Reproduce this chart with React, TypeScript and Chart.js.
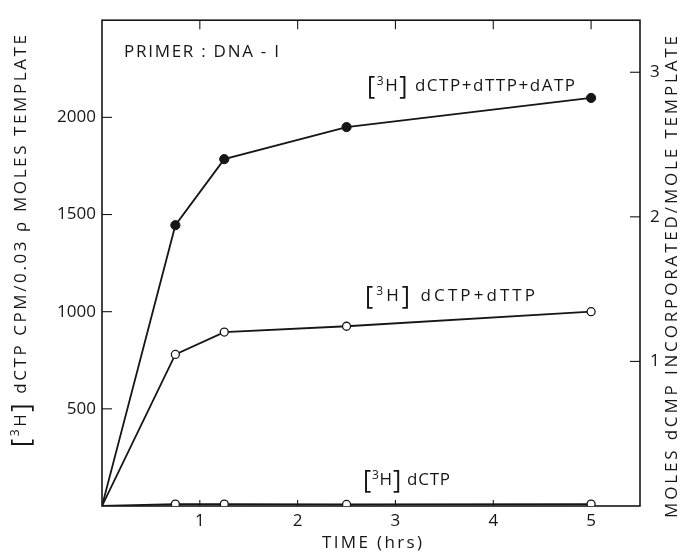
import React, { useEffect, useRef } from 'react';
import { Chart, registerables } from 'chart.js';

Chart.register(...registerables);

// ---- data ----
const TIME_HRS = [0, 0.75, 1.25, 2.5, 5];
const CPM_DCTP_DTTP_DATP = [0, 1445, 1785, 1950, 2100];
const CPM_DCTP_DTTP = [0, 780, 895, 925, 1000];
const CPM_DCTP = [0, 10, 10, 8, 10];

const X_TICKS = [1, 2, 3, 4, 5];
const Y_TICKS = [500, 1000, 1500, 2000];
const Y2_TICKS = [1, 2, 3];

const X_MAX = 5.5;
const Y_MAX = 2500;
const Y2_MAX = 3.36;

const FONT = '"Open Sans", "DejaVu Sans", sans-serif';
const INK = '#161616';

type Seg = { t: string; size: number; dy?: number };

const iso = (rest: string): Seg[] => [
  { t: '[', size: 25, dy: 1 },
  { t: '3', size: 12, dy: -5 },
  { t: 'H', size: 17 },
  { t: ']', size: 25, dy: 1 },
  { t: rest, size: 17 },
];

function drawRich(ctx: CanvasRenderingContext2D, segs: Seg[], cx: number, cy: number, target?: number) {
  ctx.save();
  (ctx as any).letterSpacing = '0px';
  ctx.textBaseline = 'middle';
  ctx.textAlign = 'left';
  ctx.fillStyle = INK;
  let nat = 0;
  let n = 0;
  for (const s of segs) {
    ctx.font = `normal ${s.size}px ${FONT}`;
    for (const ch of s.t) {
      nat += ctx.measureText(ch).width;
      n++;
    }
  }
  const ls = target ? Math.max(0, (target - nat) / Math.max(1, n - 1)) : 0;
  const total = target ? Math.max(target, nat) : nat;
  let x = cx - total / 2;
  for (const s of segs) {
    ctx.font = `normal ${s.size}px ${FONT}`;
    for (const ch of s.t) {
      ctx.fillText(ch, x, cy + (s.dy || 0));
      x += ctx.measureText(ch).width + ls;
    }
  }
  ctx.restore();
}

// annotation anchors in data coordinates (hours, cpm), with rendered widths
const NOTES: { segs: Seg[]; x: number; y: number; w: number }[] = [
  { segs: [{ t: 'PRIMER : DNA - I', size: 17 }], x: 1.017, y: 2333, w: 155 },
  { segs: iso(' dCTP+dTTP+dATP'), x: 3.773, y: 2160, w: 208 },
  { segs: iso(' dCTP+dTTP'), x: 3.558, y: 1080, w: 170 },
  { segs: iso(' dCTP'), x: 3.113, y: 132, w: 87 },
];

const framePlugin = {
  id: 'frameTicks',
  beforeDatasetsDraw(chart: any) {
    const { ctx, chartArea, scales } = chart;
    const { left, right, top, bottom } = chartArea;
    ctx.save();
    ctx.strokeStyle = INK;
    ctx.lineWidth = 1.6;
    ctx.strokeRect(left, top, right - left, bottom - top);
    ctx.lineWidth = 1.1;
    const seg = (x1: number, y1: number, x2: number, y2: number) => {
      ctx.beginPath();
      ctx.moveTo(x1, y1);
      ctx.lineTo(x2, y2);
      ctx.stroke();
    };
    for (const v of X_TICKS) {
      const px = scales.x.getPixelForValue(v);
      seg(px, bottom, px, bottom - 6);
      seg(px, top, px, top + 9);
    }
    for (const v of Y_TICKS) {
      const py = scales.y.getPixelForValue(v);
      seg(left, py, left + 10, py);
    }
    for (const v of Y2_TICKS) {
      const py = scales.y1.getPixelForValue(v);
      seg(right, py, right - 10, py);
    }
    ctx.restore();
  },
  afterDraw(chart: any) {
    const { ctx, scales } = chart;
    for (const n of NOTES) {
      drawRich(ctx, n.segs, scales.x.getPixelForValue(n.x), scales.y.getPixelForValue(n.y), n.w);
    }
    // axis titles
    ctx.save();
    ctx.translate(21, 241);
    ctx.rotate(-Math.PI / 2);
    drawRich(ctx, iso(' dCTP CPM/0.03 ρ MOLES TEMPLATE'), 0, 0, 412);
    ctx.restore();
    ctx.save();
    ctx.translate(672, 277);
    ctx.rotate(-Math.PI / 2);
    drawRich(ctx, [{ t: 'MOLES dCMP INCORPORATED/MOLE TEMPLATE', size: 17 }], 0, 0, 482);
    ctx.restore();
    drawRich(ctx, [{ t: 'TIME (hrs)', size: 17 }], 372, 543, 100);
  },
};

export default function App() {
  const ref = useRef<HTMLCanvasElement | null>(null);
  useEffect(() => {
    document.body.style.margin = '0';
    const canvas = ref.current;
    if (!canvas) return;
    const pts = (ys: number[]) => TIME_HRS.map((x, i) => ({ x, y: ys[i] }));
    const radii = TIME_HRS.map((t) => (t === 0 ? 0 : 4.6));
    const radiiOpen = TIME_HRS.map((t) => (t === 0 ? 0 : 4));
    const tickFont = { family: FONT, size: 17 };
    const plain = (v: any) => String(v);
    const chart = new Chart(canvas, {
      type: 'line',
      data: {
        datasets: [
          {
            label: '[3H] dCTP+dTTP+dATP',
            data: pts(CPM_DCTP_DTTP_DATP),
            borderColor: INK,
            backgroundColor: INK,
            borderWidth: 1.8,
            pointRadius: radii,
            pointBackgroundColor: INK,
            pointBorderColor: INK,
            pointBorderWidth: 1,
            tension: 0,
          },
          {
            label: '[3H] dCTP+dTTP',
            data: pts(CPM_DCTP_DTTP),
            borderColor: INK,
            backgroundColor: '#fff',
            borderWidth: 1.8,
            pointRadius: radiiOpen,
            pointBackgroundColor: '#fff',
            pointBorderColor: INK,
            pointBorderWidth: 1.3,
            tension: 0,
          },
          {
            label: '[3H] dCTP',
            data: pts(CPM_DCTP),
            borderColor: INK,
            backgroundColor: '#fff',
            borderWidth: 1.8,
            pointRadius: radiiOpen,
            pointBackgroundColor: '#fff',
            pointBorderColor: INK,
            pointBorderWidth: 1.3,
            tension: 0,
          },
        ],
      },
      options: {
        responsive: false,
        animation: false,
        layout: { padding: { top: 13, right: 0, left: 0, bottom: 0 } },
        plugins: { legend: { display: false }, tooltip: { enabled: false } },
        scales: {
          x: {
            type: 'linear',
            min: 0,
            max: X_MAX,
            grid: { display: false, drawTicks: false },
            border: { display: false },
            afterBuildTicks: (s: any) => {
              s.ticks = X_TICKS.map((v) => ({ value: v }));
            },
            afterFit: (s: any) => {
              s.height = 47;
            },
            ticks: { color: INK, font: tickFont, padding: 5, maxRotation: 0, callback: plain },
          },
          y: {
            type: 'linear',
            position: 'left',
            min: 0,
            max: Y_MAX,
            grid: { display: false, drawTicks: false },
            border: { display: false },
            afterBuildTicks: (s: any) => {
              s.ticks = Y_TICKS.map((v) => ({ value: v }));
            },
            afterFit: (s: any) => {
              s.width = 102;
            },
            ticks: { color: INK, font: tickFont, padding: 6, callback: plain },
          },
          y1: {
            type: 'linear',
            position: 'right',
            min: 0,
            max: Y2_MAX,
            grid: { display: false, drawTicks: false },
            border: { display: false },
            afterBuildTicks: (s: any) => {
              s.ticks = Y2_TICKS.map((v) => ({ value: v }));
            },
            afterFit: (s: any) => {
              s.width = 43;
            },
            ticks: { color: INK, font: tickFont, padding: 10, callback: plain },
          },
        },
      },
      plugins: [framePlugin],
    } as any);
    return () => chart.destroy();
  }, []);
  return (
    <div style={{ width: 683, height: 553 }}>
      <canvas ref={ref} width={683} height={553} />
    </div>
  );
}
